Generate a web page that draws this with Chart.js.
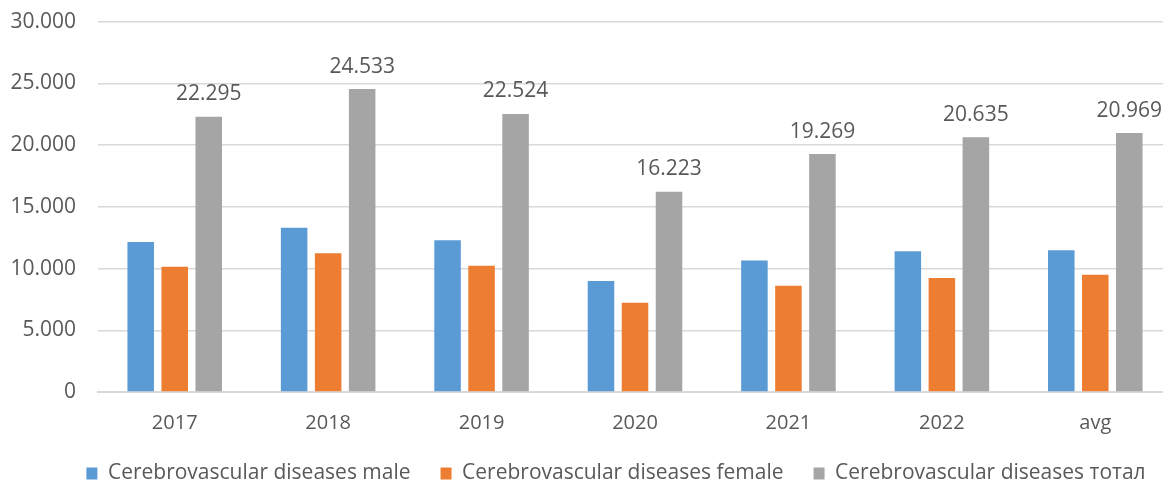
<!DOCTYPE html>
<html><head><meta charset="utf-8">
<script src="https://cdn.jsdelivr.net/npm/chart.js@4/dist/chart.umd.min.js"></script>
<style>html,body{margin:0;padding:0;background:#fff;}#wrap{width:1163px;height:484px;overflow:hidden;position:relative;}#c{position:absolute;left:0;top:-13px;}</style>
</head><body><div id="wrap"><canvas id="c" width="1172" height="520"></canvas></div>
<script>
const categories = ["2017","2018","2019","2020","2021","2022","avg"];
const maleValues = [12150, 13300, 12300, 9000, 10650, 11400, 11480];
const femaleValues = [10150, 11230, 10220, 7220, 8600, 9240, 9490];
const totalValues = [22295, 24533, 22524, 16223, 19269, 20635, 20969];
const seriesNames = ["Cerebrovascular diseases male","Cerebrovascular diseases female","Cerebrovascular diseases тотал"];
const yTicks = [0,5000,10000,15000,20000,25000,30000];

function fmt(v){ return v.toString().replace(/\B(?=(\d{3})+(?!\d))/g, "."); }

const FONT = '"Open Sans", "Liberation Sans", sans-serif';
const labelPlugin = {
  id: 'totLabels',
  afterLayout(chart){
    const lg = chart.legend;
    if (lg) { lg.left += 26; lg.right += 26; lg.top -= 13; lg.bottom -= 13; }
  },
  afterDatasetsDraw(chart){
    const ctx = chart.ctx;
    const meta = chart.getDatasetMeta(2);
    ctx.save();
    ctx.font = '21px ' + FONT;
    ctx.fillStyle = '#595959';
    ctx.textAlign = 'center';
    ctx.textBaseline = 'bottom';
    meta.data.forEach((bar,i)=>{
      ctx.fillText(fmt(totalValues[i]), bar.x, bar.y - 12);
    });
    ctx.restore();
  }
};

new Chart(document.getElementById('c'), {
  type: 'bar',
  data: {
    labels: categories,
    datasets: [
      {label: seriesNames[0], data: maleValues, backgroundColor: '#5b9bd5'},
      {label: seriesNames[1], data: femaleValues, backgroundColor: '#ed7d31'},
      {label: seriesNames[2], data: totalValues, backgroundColor: '#a5a5a5'}
    ]
  },
  options: {
    responsive: false,
    animation: false,
    devicePixelRatio: 1,
    layout: {padding: {left: 8, right: 0, top: 0, bottom: 0}},
    datasets: {bar: {categoryPercentage: 0.665, barPercentage: 0.78}},
    plugins: {
      legend: {
        position: 'bottom',
        labels: {
          boxWidth: 11, boxHeight: 12, padding: 30,
          color: '#595959',
          font: {size: 21, family: FONT}
        }
      },
      tooltip: {enabled: false}
    },
    scales: {
      x: {
        grid: {display: false},
        border: {color: '#d9d9d9', width: 2},
        ticks: {color: '#595959', font: {size: 20, family: FONT}, padding: 11}
      },
      y: {
        min: 0, max: 30000,
        afterBuildTicks(axis){ axis.ticks = yTicks.map(v=>({value:v})); },
        afterFit(axis){ axis.width = 90; },
        grid: {color: '#d9d9d9', lineWidth: 1.5, drawTicks: false},
        border: {display: false},
        ticks: {color: '#595959', font: {size: 21, family: FONT}, padding: 22, callback: v => fmt(v)}
      }
    }
  },
  plugins: [labelPlugin]
});
</script>
</body></html>
